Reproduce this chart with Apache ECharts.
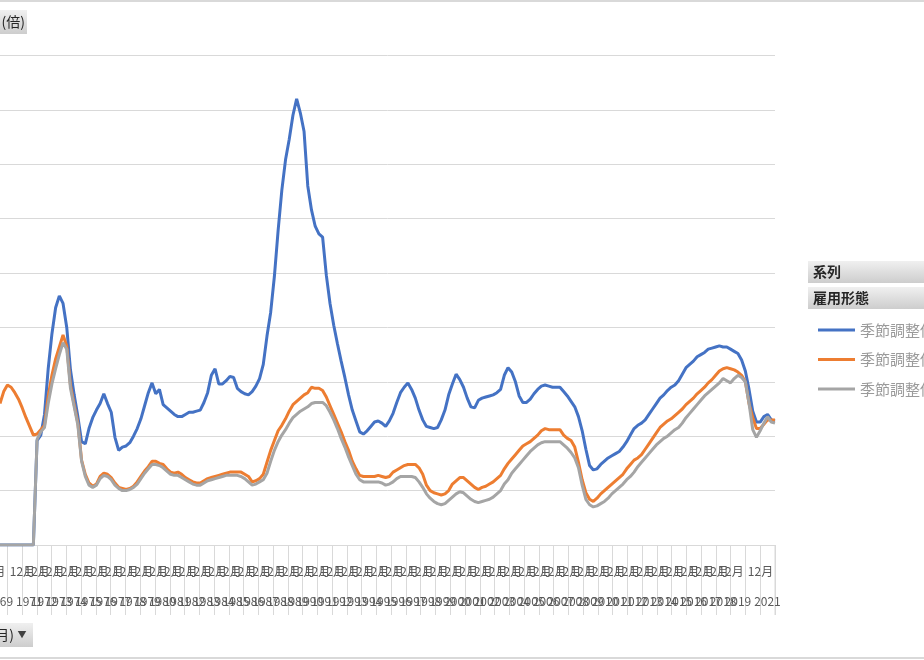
<!DOCTYPE html>
<html><head><meta charset="utf-8">
<script src="https://cdn.jsdelivr.net/npm/echarts@6/dist/echarts.min.js"></script>
<style>html,body{margin:0;padding:0;background:#fff}#c{width:924px;height:660px}</style>
</head><body><div id="c"></div>
<script>
// Quarterly points, 1969 Q3 .. 2021 Q4
const START_YEAR = 1969, START_Q = 3, END_YEAR = 2021, END_Q = 4;
const categories = [];
for (let y = START_YEAR; y <= END_YEAR; y++) {
  for (let q = 1; q <= 4; q++) {
    if (y === START_YEAR && q < START_Q) continue;
    if (y === END_YEAR && q > END_Q) continue;
    categories.push(y + '/' + q);
  }
}
const monthTickLabel = '12月';
const yTicks = { min: 0, max: 5, interval: 0.5 };

const seriesNames = ['季節調整値(パートタイム)', '季節調整値(パートを含む一般)', '季節調整値(パートを除く一般)'];

const partTime = [
0,0,0,0,0,0,0,0,0,0,
0.96,1.01,1.20,1.62,1.94,2.18,2.29,2.22,2.00,1.61,
1.38,1.18,0.95,0.93,1.07,1.17,1.24,1.30,1.39,1.30,
1.22,0.99,0.87,0.90,0.91,0.94,1.00,1.07,1.16,1.28,
1.40,1.49,1.39,1.43,1.29,1.26,1.23,1.20,1.18,1.18,
1.20,1.22,1.22,1.23,1.24,1.31,1.40,1.56,1.62,1.48,
1.48,1.51,1.55,1.54,1.44,1.41,1.39,1.38,1.41,1.46,
1.53,1.66,1.92,2.14,2.47,2.89,3.26,3.54,3.73,3.95,
4.10,3.97,3.80,3.30,3.08,2.93,2.86,2.83,2.48,2.22,
2.02,1.85,1.69,1.54,1.38,1.24,1.14,1.04,1.02,1.05,
1.09,1.13,1.14,1.12,1.09,1.14,1.21,1.31,1.40,1.45,
1.49,1.43,1.35,1.24,1.15,1.09,1.08,1.07,1.08,1.15,
1.24,1.38,1.48,1.57,1.52,1.45,1.35,1.27,1.26,1.33,
1.35,1.36,1.37,1.38,1.40,1.43,1.56,1.63,1.59,1.50,
1.37,1.31,1.31,1.34,1.39,1.43,1.46,1.47,1.46,1.45,
1.45,1.45,1.41,1.37,1.32,1.27,1.18,1.05,0.88,0.73,
0.69,0.70,0.74,0.77,0.80,0.82,0.84,0.86,0.90,0.95,
1.01,1.07,1.10,1.12,1.15,1.20,1.25,1.30,1.35,1.38,
1.42,1.45,1.47,1.51,1.57,1.63,1.66,1.69,1.73,1.75,
1.77,1.80,1.81,1.82,1.83,1.82,1.82,1.80,1.78,1.76,
1.70,1.60,1.43,1.23,1.13,1.13,1.18,1.20,1.15,1.14
];

const inclPart = [
1.30,1.41,1.47,1.45,1.40,1.34,1.26,1.17,1.09,1.01,
1.02,1.06,1.10,1.37,1.56,1.71,1.82,1.93,1.83,1.47,
1.29,1.12,0.78,0.65,0.57,0.54,0.56,0.63,0.66,0.65,
0.62,0.57,0.53,0.52,0.51,0.52,0.54,0.58,0.63,0.68,
0.72,0.77,0.77,0.75,0.74,0.70,0.67,0.66,0.67,0.65,
0.62,0.60,0.58,0.57,0.57,0.59,0.61,0.62,0.63,0.64,
0.65,0.66,0.67,0.67,0.67,0.67,0.65,0.63,0.58,0.59,
0.61,0.65,0.76,0.87,0.96,1.05,1.10,1.16,1.23,1.29,
1.32,1.35,1.38,1.40,1.45,1.44,1.44,1.42,1.36,1.28,
1.20,1.12,1.04,0.95,0.87,0.77,0.70,0.64,0.63,0.63,
0.63,0.63,0.64,0.63,0.62,0.63,0.67,0.69,0.71,0.73,
0.74,0.74,0.74,0.71,0.65,0.55,0.50,0.48,0.47,0.46,
0.47,0.50,0.56,0.59,0.62,0.62,0.59,0.56,0.53,0.51,
0.53,0.54,0.56,0.58,0.61,0.64,0.70,0.75,0.79,0.83,
0.87,0.91,0.93,0.95,0.98,1.01,1.05,1.07,1.06,1.06,
1.06,1.06,1.01,0.98,0.96,0.90,0.76,0.60,0.48,0.42,
0.40,0.43,0.47,0.50,0.53,0.56,0.59,0.62,0.65,0.70,
0.74,0.78,0.80,0.83,0.88,0.93,0.98,1.03,1.08,1.11,
1.14,1.16,1.19,1.22,1.25,1.29,1.32,1.35,1.39,1.42,
1.45,1.49,1.52,1.56,1.60,1.62,1.63,1.62,1.61,1.59,
1.56,1.50,1.30,1.17,1.07,1.07,1.11,1.15,1.15,1.15
];

const exclPart = [
0,0,0,0,0,0,0,0,0,0,
0.97,1.04,1.08,1.30,1.48,1.62,1.75,1.86,1.80,1.44,
1.27,1.10,0.77,0.63,0.55,0.53,0.55,0.61,0.64,0.63,
0.60,0.55,0.52,0.50,0.50,0.51,0.53,0.56,0.61,0.66,
0.70,0.74,0.74,0.73,0.71,0.68,0.65,0.64,0.64,0.62,
0.60,0.58,0.56,0.55,0.55,0.57,0.59,0.60,0.61,0.62,
0.63,0.64,0.64,0.64,0.64,0.63,0.61,0.58,0.55,0.56,
0.58,0.60,0.66,0.77,0.87,0.95,1.01,1.06,1.12,1.17,
1.20,1.23,1.25,1.27,1.30,1.31,1.31,1.31,1.28,1.22,
1.15,1.07,0.98,0.90,0.81,0.73,0.65,0.60,0.58,0.58,
0.58,0.58,0.58,0.57,0.55,0.56,0.58,0.61,0.63,0.63,
0.63,0.63,0.62,0.58,0.53,0.47,0.43,0.40,0.38,0.37,
0.38,0.41,0.44,0.47,0.49,0.48,0.45,0.42,0.40,0.39,
0.40,0.41,0.42,0.44,0.47,0.50,0.56,0.60,0.66,0.70,
0.74,0.78,0.82,0.86,0.89,0.92,0.94,0.95,0.95,0.95,
0.95,0.95,0.92,0.89,0.85,0.80,0.71,0.55,0.42,0.37,
0.35,0.36,0.38,0.40,0.43,0.47,0.50,0.53,0.56,0.60,
0.63,0.67,0.72,0.76,0.80,0.84,0.88,0.92,0.95,0.98,
1.00,1.03,1.06,1.08,1.12,1.17,1.21,1.25,1.29,1.33,
1.37,1.40,1.43,1.46,1.49,1.53,1.51,1.49,1.53,1.56,
1.54,1.50,1.30,1.06,0.99,1.05,1.12,1.18,1.13,1.12
];

const colors = ['#4472C4', '#ED7D31', '#A5A5A5'];
const FONT = '"Noto Sans CJK JP", "Noto Sans", sans-serif';

const chart = echarts.init(document.getElementById('c'), null, { renderer: 'canvas' });

function btnGrad() {
  return new echarts.graphic.LinearGradient(0, 0, 0, 1, [
    { offset: 0, color: '#f0f0f0' }, { offset: 1, color: '#cdcdcd' }
  ]);
}

chart.setOption({
  animation: false,
  backgroundColor: '#ffffff',
  color: colors,
  grid: { left: 0, right: 149, top: 1, bottom: 115, containLabel: false, outerBoundsMode: 'none' },
  legend: {
    data: seriesNames,
    orient: 'vertical',
    left: 813, top: 316,
    icon: 'rect', itemWidth: 37, itemHeight: 3, itemGap: 11.5,
    selectedMode: false,
    textStyle: { fontFamily: FONT, fontSize: 15, color: '#9a9a9a', lineHeight: 18 }
  },
  xAxis: [
    {
      type: 'category', data: categories, boundaryGap: false,
      axisLine: { show: true, lineStyle: { color: '#d9d9d9', width: 1 } },
      axisTick: { show: false }, axisLabel: { show: false }, splitLine: { show: false }
    },
    {
      type: 'category', data: categories, boundaryGap: true, position: 'bottom',
      axisLine: { show: false },
      axisTick: { show: true, length: 70, lineStyle: { color: '#d9d9d9', width: 1 },
        interval: (i, v) => v.endsWith('/1') },
      axisLabel: { interval: (i, v) => v.endsWith('/4'), formatter: () => monthTickLabel,
        showMinLabel: true, showMaxLabel: true, hideOverlap: false,
        align: 'right', margin: 20, fontSize: 12, color: '#595959', fontFamily: FONT }
    },
    {
      type: 'category', data: categories, boundaryGap: true, position: 'bottom',
      axisLine: { show: false }, axisTick: { show: false },
      axisLabel: { interval: (i, v) => v.endsWith('/3'), formatter: v => v.split('/')[0],
        showMinLabel: true, showMaxLabel: true, hideOverlap: false,
        margin: 50, fontSize: 12, color: '#595959', fontFamily: FONT, padding: [0, 4, 0, 0] }
    }
  ],
  yAxis: {
    type: 'value', min: yTicks.min, max: yTicks.max, interval: yTicks.interval,
    axisLabel: { show: false }, axisLine: { show: false }, axisTick: { show: false },
    splitLine: { lineStyle: { color: '#d9d9d9', width: 1 } }
  },
  series: [
    { name: seriesNames[0], type: 'line', data: partTime, showSymbol: false, symbol: 'none',
      lineStyle: { width: 3, color: colors[0] }, itemStyle: { color: colors[0] } },
    { name: seriesNames[1], type: 'line', data: inclPart, showSymbol: false, symbol: 'none',
      lineStyle: { width: 3, color: colors[1] }, itemStyle: { color: colors[1] } },
    { name: seriesNames[2], type: 'line', data: exclPart, showSymbol: false, symbol: 'none',
      lineStyle: { width: 3, color: colors[2] }, itemStyle: { color: colors[2] } }
  ],
  graphic: [
    { type: 'line', shape: { x1: 0, y1: 1, x2: 924, y2: 1 }, style: { stroke: '#d9d9d9', lineWidth: 2 } },
    { type: 'line', shape: { x1: 0, y1: 658, x2: 924, y2: 658 }, style: { stroke: '#d9d9d9', lineWidth: 2 } },
    { type: 'line', shape: { x1: 775, y1: 545, x2: 775, y2: 615 }, style: { stroke: '#d9d9d9', lineWidth: 1 } },
    // "(倍)" field button
    { type: 'rect', shape: { x: -4, y: 10, width: 31, height: 24 }, style: { fill: btnGrad() } },
    { type: 'text', x: 25, y: 22, style: { text: '(倍)', fontFamily: FONT, fontSize: 14, fill: '#262626', align: 'right', verticalAlign: 'middle' } },
    // bottom-left field button
    { type: 'rect', shape: { x: -4, y: 623, width: 37, height: 24 }, style: { fill: btnGrad() } },
    { type: 'text', x: 14, y: 635, style: { text: '月)', fontFamily: FONT, fontSize: 14, fill: '#262626', align: 'right', verticalAlign: 'middle' } },
    { type: 'text', x: 22, y: 635, style: { text: '▼', fontFamily: FONT, fontSize: 9, fill: '#404040', align: 'center', verticalAlign: 'middle' } },
    // legend headers
    { type: 'rect', shape: { x: 808, y: 261, width: 120, height: 22 }, style: { fill: btnGrad() } },
    { type: 'text', x: 813, y: 272, style: { text: '系列', fontFamily: FONT, fontSize: 14, fontWeight: 'bold', fill: '#262626', verticalAlign: 'middle' } },
    { type: 'rect', shape: { x: 808, y: 287, width: 120, height: 22 }, style: { fill: btnGrad() } },
    { type: 'text', x: 813, y: 298, style: { text: '雇用形態', fontFamily: FONT, fontSize: 14, fontWeight: 'bold', fill: '#262626', verticalAlign: 'middle' } }
  ]
});
</script>
</body></html>
